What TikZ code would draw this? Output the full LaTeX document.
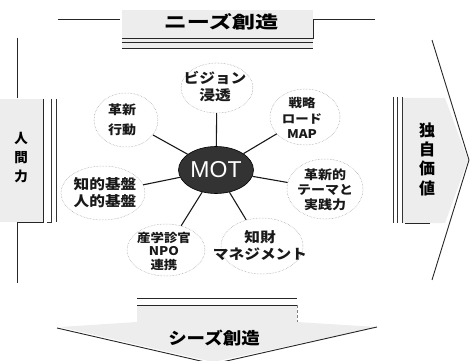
\documentclass[tikz,border=0pt]{standalone}
\usepackage{fontspec}
\newfontfamily\jp{Noto Sans CJK JP}
\newfontfamily\jpA{Noto Sans CJK JP}[FakeStretch=1.12]
\newfontfamily\jpB{Noto Sans CJK JP}[FakeStretch=1.36]
\newfontfamily\jpC{Noto Sans CJK JP}[FakeStretch=1.12]
\newfontfamily\lat{Liberation Sans}
\usetikzlibrary{shapes.geometric}
\begin{document}
\begin{tikzpicture}[x=1pt,y=-1pt,
  frame/.style={draw=black!85,line width=0.9pt},
  thin/.style={draw=black!80,line width=0.7pt},
  sat/.style={ellipse,draw=black!40,densely dotted,line width=0.5pt,inner sep=0pt},
  txt/.style={align=center,inner sep=0pt,text=black!90},
  spoke/.style={draw=black!90,line width=1.1pt},
  vtxt/.style={font=\jp\bfseries\fontsize{13.5}{19}\selectfont,align=center,inner sep=0pt}]
\useasboundingbox (0,0) rectangle (472,361);
% light halftone backgrounds
\fill[black!7] (122,10) rectangle (313,48);
\fill[black!7] (0,99) rectangle (43,222);
\fill[black!7] (402,98) -- (445,98) -- (468,160) -- (445,223) -- (402,223) -- cycle;
\fill[black!7] (60,327) -- (137,322) -- (137,305) -- (297,305) -- (297,322) -- (377,327) -- (213,362) -- cycle;
% top banner
\draw[frame] (58,19) -- (120,19);
\draw[frame] (375,19) -- (313,19) -- (313,38) -- (122,38);
\draw[frame] (122,42) -- (313,42);
\draw[frame] (122,48) -- (313,48);
\node[font=\jpB\bfseries\fontsize{17}{18}\selectfont] (needs) at (221,22) {ニーズ創造};
% left
\draw[frame] (17,38) -- (17,98);
\draw[frame] (43,99) -- (43,222) -- (17,222) -- (17,283);
\draw[thin] (51,99) -- (51,222) -- (47,222);
\draw[thin] (56,99) -- (56,222);
\node[vtxt] (human) at (21,158) {人\\間\\力};
% right
\draw[frame] (432,40) -- (469,160) -- (432,280);
\draw[thin] (393,97) -- (393,223);
\draw[thin] (397,97) -- (397,223);
\draw[thin] (402,97) -- (402,223);
\draw[frame] (405,223) -- (430,223);
\node[vtxt,font=\jp\bfseries\fontsize{16}{19.3}\selectfont] (unique) at (427,159) {独\\自\\価\\値};
% bottom
\draw[frame] (137,298) -- (297,298);
\draw[frame] (137,305) -- (297,305);
\draw[draw=black!50,densely dashed,line width=0.6pt] (297,305) -- (297,322);
\draw[frame] (57,328) -- (205,362);
\draw[frame] (222,362) -- (377,327);
\node[font=\jpC\bfseries\fontsize{16.5}{18}\selectfont] (seeds) at (214,338) {シーズ創造};
% centre
\node[ellipse,fill=black!80,draw=black,line width=0.6pt,minimum width=75pt,minimum height=47pt,inner sep=0pt] (mot) at (216,170) {};
\node[font=\lat\fontsize{23}{24}\selectfont,text=white] (mottxt) at (mot) {MOT};
% satellites
\node[sat,minimum width=72pt,minimum height=50pt] (s1) at (217,88) {};
\node[sat,minimum width=64pt,minimum height=54pt] (s2) at (126,120) {};
\node[sat,minimum width=70pt,minimum height=56pt] (s3) at (305,117) {};
\node[sat,minimum width=84pt,minimum height=54pt] (s4) at (103,193) {};
\node[sat,minimum width=76pt,minimum height=60pt] (s5) at (325,189) {};
\node[sat,minimum width=78pt,minimum height=52pt] (s6) at (166,250) {};
\node[sat,minimum width=82pt,minimum height=56pt] (s7) at (262,246) {};
\node[txt,font=\jpA\bfseries\fontsize{14}{17}\selectfont] (t1) at (215,87) {ビジョン\\浸透};
\node[txt,font=\jpA\bfseries\fontsize{12.5}{20}\selectfont] (t2) at (122,120) {革新\\行動};
\node[txt,font=\jpA\bfseries\fontsize{12}{15.5}\selectfont] (t3) at (302,118) {戦略\\ロード\\MAP};
\node[txt,font=\jpA\bfseries\fontsize{14}{17}\selectfont] (t4) at (105,193) {知的基盤\\人的基盤};
\node[txt,font=\jpA\bfseries\fontsize{12.5}{15}\selectfont] (t5) at (325,190) {革新的\\テーマと\\実践力};
\node[txt,font=\jpA\bfseries\fontsize{12}{13.5}\selectfont] (t6) at (164,251) {産学診官\\NPO\\連携};
\node[txt,font=\jpA\bfseries\fontsize{14}{17}\selectfont] (t7) at (260,246) {知財\\マネジメント};
% spokes
\foreach \s in {s1,s2,s3,s4,s5,s6,s7}
  \draw[spoke] (mot) -- (\s);
\end{tikzpicture}
\end{document}
